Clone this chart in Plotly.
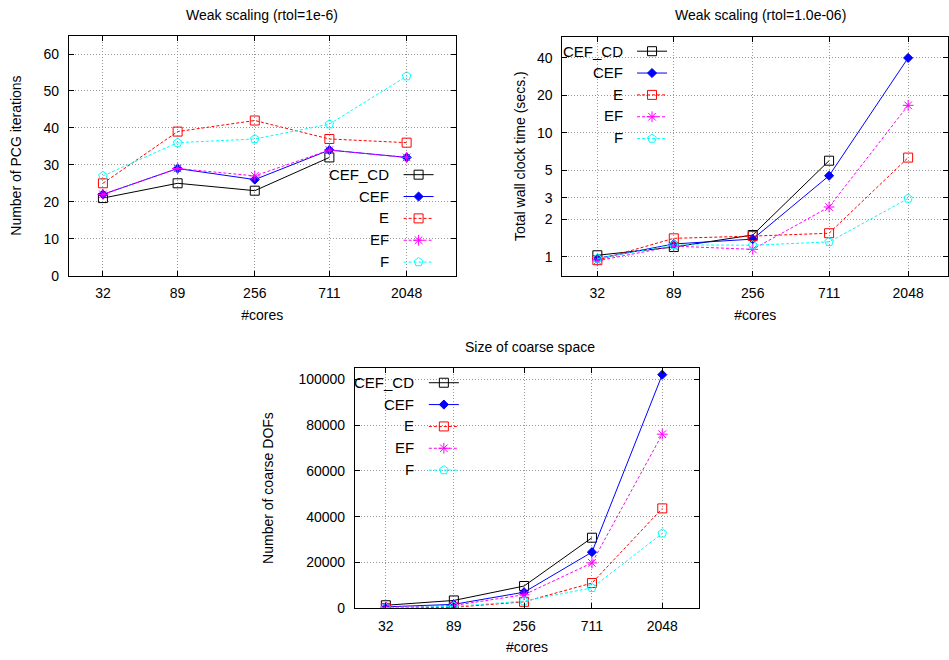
import plotly.graph_objects as go

W, H = 949, 660
FONT = "Liberation Sans, Arial, sans-serif"

# ---------------- data ----------------
cores = [32, 89, 256, 711, 2048]
core_labels = ["32", "89", "256", "711", "2048"]
series_names = ["CEF_CD", "CEF", "E", "EF", "F"]

# Number of PCG iterations
iter_cef_cd = [21, 25, 23, 32, None]
iter_cef = [22, 29, 26, 34, 32]
iter_e = [25, 39, 42, 37, 36]
iter_ef = [22, 29, 27, 34, 32]
iter_f = [27, 36, 37, 41, 54]

# Total wall clock time (secs.)
time_cef_cd = [1.03, 1.2, 1.5, 5.95, None]
time_cef = [0.97, 1.27, 1.39, 4.5, 40]
time_e = [0.94, 1.41, 1.47, 1.55, 6.3]
time_ef = [0.93, 1.22, 1.15, 2.52, 16.6]
time_f = [0.97, 1.25, 1.24, 1.32, 2.95]

# Number of coarse DOFs
dofs_cef_cd = [1300, 3400, 9700, 30800, None]
dofs_cef = [600, 1700, 7000, 24500, 102000]
dofs_e = [150, 400, 2800, 11000, 43600]
dofs_ef = [400, 1200, 5900, 19800, 76000]
dofs_f = [250, 800, 3100, 8900, 32700]

time_ticks = [1, 2, 3, 5, 10, 20, 40]

iters = [iter_cef_cd, iter_cef, iter_e, iter_ef, iter_f]
times = [time_cef_cd, time_cef, time_e, time_ef, time_f]
dofs = [dofs_cef_cd, dofs_cef, dofs_e, dofs_ef, dofs_f]

styles = [
    dict(color="#000000", dash="solid", symbol="square-open", size=9),
    dict(color="#0000ff", dash="solid", symbol="diamond", size=7),
    dict(color="#ff0000", dash="3px,2px", symbol="square-open", size=9),
    dict(color="#ff00ff", dash="3px,2px", symbol="asterisk-open", size=9),
    dict(color="#00ffff", dash="3px,2px", symbol="pentagon-open", size=9),
]


# ---------------- geometry helpers (pixels -> paper) ----------------
def px_x(x):
    return x / W


def px_y(y):
    return 1 - y / H


panels = [
    dict(l=69, r=456, t=36, b=279, xr=[1.303, 3.602], yr=[0, 65], leg=(419, 176.7),
         box=(330, 456, 167, 279), title="Weak scaling (rtol=1e-6)", tpos=(262.5, 15),
         ytitle="Number of PCG iterations", ystand=18),
    dict(l=563, r=949, t=37, b=279, xr=[1.302, 3.543], yr=[-0.151, 1.774], leg=(652.7, 51.7),
         box=(563, 680, 37, 150), title="Weak scaling (rtol=1.0e-06)", tpos=(761, 15),
         ytitle="Total wall clock time (secs.)", ystand=8),
    dict(l=355.3, r=700, t=372.3, b=615.7, xr=[1.303, 3.553], yr=[0, 105000], leg=(444.3, 387.3),
         box=(355.3, 472.7, 372.3, 485.7), title="Size of coarse space", tpos=(531, 351),
         ytitle="Number of coarse DOFs", ystand=21),
]

datasets = [iters, times, dofs]
legend_keys = ["legend", "legend2", "legend3"]
LEG_SP = 21.9

fig = go.Figure()

for k, (panel, data) in enumerate(zip(panels, datasets)):
    ax = "" if k == 0 else str(k + 1)
    for name, vals, st in zip(series_names, data, styles):
        fig.add_trace(go.Scatter(
            x=cores, y=vals, name=name, mode="lines+markers",
            xaxis="x" + ax, yaxis="y" + ax, legend=legend_keys[k],
            line=dict(color=st["color"], dash=st["dash"], width=1),
            marker=dict(symbol=st["symbol"], size=st["size"], color=st["color"],
                        line=dict(color=st["color"], width=1)),
            connectgaps=False,
        ))

axis_common = dict(
    showline=True, linecolor="black", linewidth=1, mirror="ticks",
    ticks="inside", ticklen=5, tickcolor="black", tickwidth=1,
    showgrid=True, gridcolor="#999999", griddash="1px,2px", gridwidth=1,
    zeroline=False, tickfont=dict(family=FONT, size=14, color="black"),
    title_font=dict(family=FONT, size=14, color="black"),
)

layout = dict(
    width=W, height=H, margin=dict(l=0, r=0, t=0, b=0),
    paper_bgcolor="white", plot_bgcolor="white",
    font=dict(family=FONT, size=14, color="black"),
    showlegend=True,
)

annotations = []
shapes = []
for k, panel in enumerate(panels):
    ax = "" if k == 0 else str(k + 1)
    xa = dict(axis_common)
    xa.update(
        type="log", range=panel["xr"], tickmode="array", tickvals=cores, ticktext=core_labels,
        domain=[px_x(panel["l"]), px_x(panel["r"])], anchor="y" + ax,
        title=dict(text="#cores", standoff=9), ticklabelstandoff=5,
    )
    ya = dict(axis_common)
    ya.update(domain=[px_y(panel["b"]), px_y(panel["t"])], anchor="x" + ax, range=panel["yr"],
              title=dict(text=panel["ytitle"], standoff=panel["ystand"]), ticklabelstandoff=6)
    if k == 0:
        ya.update(dtick=10, tick0=0)
    elif k == 1:
        ya.update(type="log", tickmode="array",
                  tickvals=time_ticks, ticktext=[str(v) for v in time_ticks])
    else:
        ya.update(dtick=20000, tick0=0, tickformat="d")
    layout["xaxis" + ax] = xa
    layout["yaxis" + ax] = ya

    # title
    annotations.append(dict(text=panel["title"], xref="paper", yref="paper",
                            x=px_x(panel["tpos"][0]), y=px_y(panel["tpos"][1]),
                            xanchor="center", yanchor="middle", showarrow=False,
                            font=dict(family=FONT, size=14, color="black")))

    # legend (symbols from plotly legend, labels as right-aligned text on the left)
    mx, my = panel["leg"]
    layout[legend_keys[k]] = dict(
        x=px_x(mx - 20), y=px_y(my - 16), xanchor="left", yanchor="top",
        bgcolor="rgba(0,0,0,0)", borderwidth=0, tracegroupgap=0,
        font=dict(family=FONT, size=14.5, color="rgba(0,0,0,0)"),
    )
    for i, name in enumerate(series_names):
        annotations.append(dict(text=name, xref="paper", yref="paper",
                                x=px_x(mx - 27.5), y=px_y(my + i * LEG_SP),
                                xanchor="right", yanchor="middle", showarrow=False,
                                font=dict(family=FONT, size=15, color="black")))

    # opaque key area (hides grid, below traces) in axis units derived from the pixel box
    bx0, bx1, by0, by1 = panel["box"]
    w = panel["r"] - panel["l"]
    h = panel["b"] - panel["t"]
    xr, yr = panel["xr"], panel["yr"]

    def ax_x(px):
        return xr[0] + (px - panel["l"]) / w * (xr[1] - xr[0])

    def ax_y(py):
        return yr[0] + (panel["b"] - py) / h * (yr[1] - yr[0])

    shapes.append(dict(type="rect", xref="x" + ax, yref="y" + ax,
                       x0=ax_x(bx0), x1=ax_x(bx1), y0=ax_y(by1), y1=ax_y(by0),
                       fillcolor="white", line=dict(width=0), layer="between"))

layout["annotations"] = annotations
layout["shapes"] = shapes
fig.update_layout(**layout)

fig.write_html("out.html", config={"displayModeBar": False},
               post_script="document.body.style.margin='0px';")
